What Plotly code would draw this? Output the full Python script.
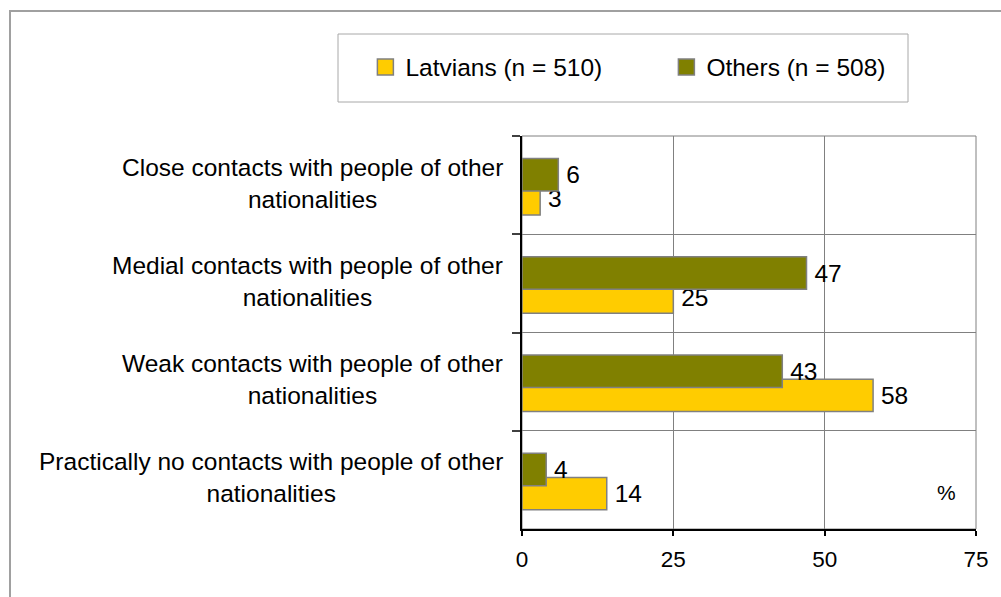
import plotly.graph_objects as go

# Survey data: share of respondents (%) by contact intensity
categories = [
    "Close contacts with people of other nationalities",
    "Medial contacts with people of other nationalities",
    "Weak contacts with people of other nationalities",
    "Practically no contacts with people of other nationalities",
]
category_labels = [
    "Close contacts with people of other<br>nationalities",
    "Medial contacts with people of other<br>nationalities",
    "Weak contacts with people of other<br>nationalities",
    "Practically no contacts with people of other<br>nationalities",
]
latvians = [3, 25, 58, 14]
others = [6, 47, 43, 4]
series_names = ["Latvians (n = 510)", "Others (n = 508)"]
series_colors = ["#FFCC00", "#808000"]
x_ticks = [0, 25, 50, 75]

FONT = "Liberation Sans, Arial, sans-serif"
W, H = 1001, 597
L, R, T, B = 522, 21, 136, 68
PW = W - L - R
PH = H - T - B

def px_to_paper_x(px):
    return (px - L) / PW

fig = go.Figure()

bar_common = dict(
    orientation="h",
    width=0.33,
    marker_line=dict(color="#808080", width=1.5),
    textposition="outside",
    texttemplate="\u2009%{x}",
    textfont=dict(family=FONT, size=24.5, color="black"),
    constraintext="none",
    cliponaxis=False,
    showlegend=False,
)

fig.add_trace(go.Bar(
    name=series_names[0], y=categories, x=latvians, legendgroup="lv",
    offset=-0.025, marker_color=series_colors[0], **bar_common,
))
fig.add_trace(go.Bar(
    name=series_names[1], y=categories, x=others, legendgroup="ot",
    offset=-0.27, marker_color=series_colors[1], **bar_common,
))

# Legend entries with larger square swatches
for name, color, grp in zip(series_names, series_colors, ["lv", "ot"]):
    fig.add_trace(go.Scatter(
        x=[None], y=[None], mode="markers", name=name, legendgroup=grp,
        marker=dict(symbol="square", size=16, color=color,
                    line=dict(color="#808080", width=1.5)),
        showlegend=True,
    ))

# Category labels, centred line by line to the left of the axis
annotations = []
for cat, lab in zip(categories, category_labels):
    annotations.append(dict(
        x=0, xref="paper", xshift=-17, xanchor="right",
        y=cat, yref="y", yanchor="middle", yshift=2,
        text=lab, align="center", showarrow=False,
        font=dict(family=FONT, size=24.5, color="black"),
    ))
annotations.append(dict(
    x=70.1, xref="x", y=0.092, yref="paper", text="%", showarrow=False,
    xanchor="center", yanchor="middle",
    font=dict(family=FONT, size=21, color="black"),
))

shapes = [
    # plot-area frame
    dict(type="rect", xref="paper", yref="paper", x0=0, x1=1, y0=0, y1=1,
         line=dict(color="#808080", width=1), layer="below"),
    # outer chart frame (runs off the right and bottom edges)
    dict(type="rect", xref="paper", yref="paper",
         xsizemode="pixel", ysizemode="pixel", xanchor=0, yanchor=1,
         x0=10 - L, x1=W - L + 40, y0=T - 11, y1=-(H - T) - 40,
         line=dict(color="#a0a0a0", width=2), layer="below"),
    # legend frame
    dict(type="rect", xref="paper", yref="paper",
         xsizemode="pixel", ysizemode="pixel", xanchor=0, yanchor=1,
         x0=338 - L, x1=908 - L, y0=T - 34, y1=T - 102,
         line=dict(color="#a8a8a8", width=1), fillcolor="white", layer="below"),
]

fig.update_layout(
    width=W, height=H,
    margin=dict(l=L, r=R, t=T, b=B, pad=0),
    paper_bgcolor="white", plot_bgcolor="white",
    barmode="overlay",
    font=dict(family=FONT, color="black"),
    showlegend=True,
    legend=dict(
        orientation="h", traceorder="normal", itemsizing="trace",
        x=px_to_paper_x(364), xanchor="left",
        y=(H - B - 67) / PH, yanchor="middle",
        bgcolor="rgba(0,0,0,0)", borderwidth=0,
        font=dict(family=FONT, size=24.5, color="black"),
        entrywidth=256, entrywidthmode="pixels",
    ),
    xaxis=dict(
        range=[0, 75], tickvals=x_ticks, ticktext=[str(v) for v in x_ticks],
        showgrid=True, gridcolor="#808080", gridwidth=1,
        showline=True, linecolor="black", linewidth=1.5,
        ticks="outside", ticklen=5, tickcolor="black", tickwidth=1.5,
        ticklabelstandoff=4,
        tickfont=dict(family=FONT, size=22.5, color="black"),
        zeroline=False, fixedrange=True,
    ),
    yaxis=dict(
        type="category", categoryorder="array", categoryarray=categories,
        range=[3.5, -0.5], tickson="boundaries",
        showgrid=True, gridcolor="#808080", gridwidth=1,
        showline=True, linecolor="black", linewidth=1.5,
        ticks="outside", ticklen=8, tickcolor="#404040", tickwidth=1.5,
        showticklabels=False, zeroline=False, fixedrange=True,
    ),
    annotations=annotations,
    shapes=shapes,
)

fig.write_html("out.html")
